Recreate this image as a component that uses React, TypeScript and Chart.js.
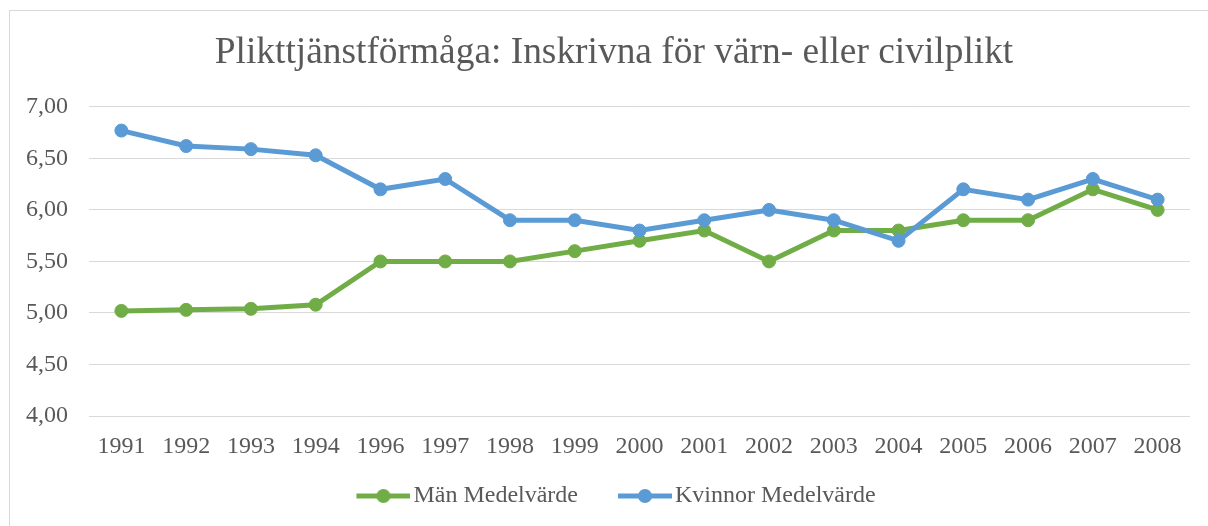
import React, { useEffect, useRef } from "react";
import { Chart, registerables } from "chart.js";

Chart.register(...registerables);

const TITLE = "Plikttjänstförmåga: Inskrivna för värn- eller civilplikt";
const YEARS = ["1991", "1992", "1993", "1994", "1996", "1997", "1998", "1999", "2000", "2001", "2002", "2003", "2004", "2005", "2006", "2007", "2008"];
const MAN_LABEL = "Män Medelvärde";
const KVINNOR_LABEL = "Kvinnor Medelvärde";
const MAN_VALUES = [5.02, 5.03, 5.04, 5.08, 5.5, 5.5, 5.5, 5.6, 5.7, 5.8, 5.5, 5.8, 5.8, 5.9, 5.9, 6.2, 6.0];
const KVINNOR_VALUES = [6.77, 6.62, 6.59, 6.53, 6.2, 6.3, 5.9, 5.9, 5.8, 5.9, 6.0, 5.9, 5.7, 6.2, 6.1, 6.3, 6.1];
const Y_MIN = 4;
const Y_MAX = 7;
const Y_STEP = 0.5;

const GREEN = "#70AD47";
const BLUE = "#5B9BD5";
const TEXT = "#595959";
const GRID = "#D9D9D9";
const FONT = "'Liberation Serif', 'Times New Roman', serif";

function makeLegendMarker(color: string): HTMLCanvasElement {
  const c = document.createElement("canvas");
  c.width = 93;
  c.height = 16;
  const ctx = c.getContext("2d")!;
  ctx.strokeStyle = color;
  ctx.lineWidth = 5;
  ctx.beginPath();
  ctx.moveTo(39, 8);
  ctx.lineTo(93, 8);
  ctx.stroke();
  ctx.fillStyle = color;
  ctx.beginPath();
  ctx.arc(66, 8, 7, 0, Math.PI * 2);
  ctx.fill();
  return c;
}

const legendShift = {
  id: "legendShift",
  afterLayout(chart: any) {
    if (chart.legend) {
      chart.legend.left -= 13;
      chart.legend.right -= 13;
    }
  },
};

export default function App() {
  const ref = useRef<HTMLCanvasElement | null>(null);

  useEffect(() => {
    if (!ref.current) return;
    const markers = [makeLegendMarker(GREEN), makeLegendMarker(BLUE)];
    const chart = new Chart(ref.current, {
      type: "line",
      data: {
        labels: YEARS,
        datasets: [
          {
            label: MAN_LABEL,
            data: MAN_VALUES,
            borderColor: GREEN,
            backgroundColor: GREEN,
            borderWidth: 5,
            pointRadius: 6.5,
            pointBorderWidth: 1,
            pointBackgroundColor: GREEN,
            pointBorderColor: GREEN,
            tension: 0,
            order: 1,
            yAxisID: "y",
          },
          {
            label: KVINNOR_LABEL,
            data: KVINNOR_VALUES,
            borderColor: BLUE,
            backgroundColor: BLUE,
            borderWidth: 5,
            pointRadius: 6.5,
            pointBorderWidth: 1,
            pointBackgroundColor: BLUE,
            pointBorderColor: BLUE,
            tension: 0,
            order: 0,
            yAxisID: "y",
          },
        ],
      },
      plugins: [legendShift],
      options: {
        animation: false,
        responsive: false,
        maintainAspectRatio: false,
        layout: { padding: { top: 9, right: 0, bottom: 8, left: 20 } },
        plugins: {
          title: {
            display: true,
            text: TITLE,
            color: TEXT,
            font: { family: FONT, size: 37.4, weight: "normal" },
            padding: { top: 22, bottom: 31 },
          },
          legend: {
            position: "bottom",
            labels: {
              color: TEXT,
              font: { family: FONT, size: 24 },
              usePointStyle: true,
              pointStyleWidth: 75,
              boxHeight: 24,
              padding: 10,
              generateLabels: (chart: any) =>
                chart.data.datasets.map((ds: any, i: number) => ({
                  text: ds.label,
                  fillStyle: ds.borderColor,
                  strokeStyle: ds.borderColor,
                  fontColor: TEXT,
                  lineWidth: 0,
                  pointStyle: markers[i],
                  hidden: !chart.isDatasetVisible(i),
                  datasetIndex: i,
                })),
            },
          },
          tooltip: { enabled: false },
        },
        scales: {
          x: {
            type: "category",
            offset: true,
            grid: { display: false, drawTicks: false },
            border: { display: false },
            ticks: {
              color: TEXT,
              font: { family: FONT, size: 24 },
              padding: 16,
              maxRotation: 0,
              autoSkip: false,
            },
            afterFit: (scale: any) => {
              scale.height = 58;
            },
          },
          y: {
            position: "left",
            min: Y_MIN,
            max: Y_MAX,
            grid: { color: GRID, lineWidth: 1, drawTicks: false },
            border: { display: false },
            ticks: {
              stepSize: Y_STEP,
              color: TEXT,
              font: { family: FONT, size: 24 },
              padding: 21,
              callback: (v: any) => Number(v).toFixed(2).replace(".", ","),
            },
            afterFit: (scale: any) => {
              scale.width = 69;
            },
          },
          yRight: {
            position: "right",
            min: Y_MIN,
            max: Y_MAX,
            grid: { display: false, drawTicks: false },
            border: { display: false },
            ticks: { display: false },
            afterFit: (scale: any) => {
              scale.width = 18;
            },
          },
        },
      },
    });
    return () => chart.destroy();
  }, []);

  return (
    <div style={{ position: "absolute", left: 0, top: 0, width: 1208, height: 526, overflow: "hidden" }}>
      <div
        style={{
          position: "absolute",
          left: 9,
          top: 10,
          width: 1199,
          height: 516,
          boxSizing: "border-box",
          borderLeft: `1px solid ${GRID}`,
          borderTop: `1px solid ${GRID}`,
        }}
      />
      <canvas ref={ref} width={1208} height={526} style={{ position: "absolute", left: 0, top: 0, width: 1208, height: 526 }} />
    </div>
  );
}
